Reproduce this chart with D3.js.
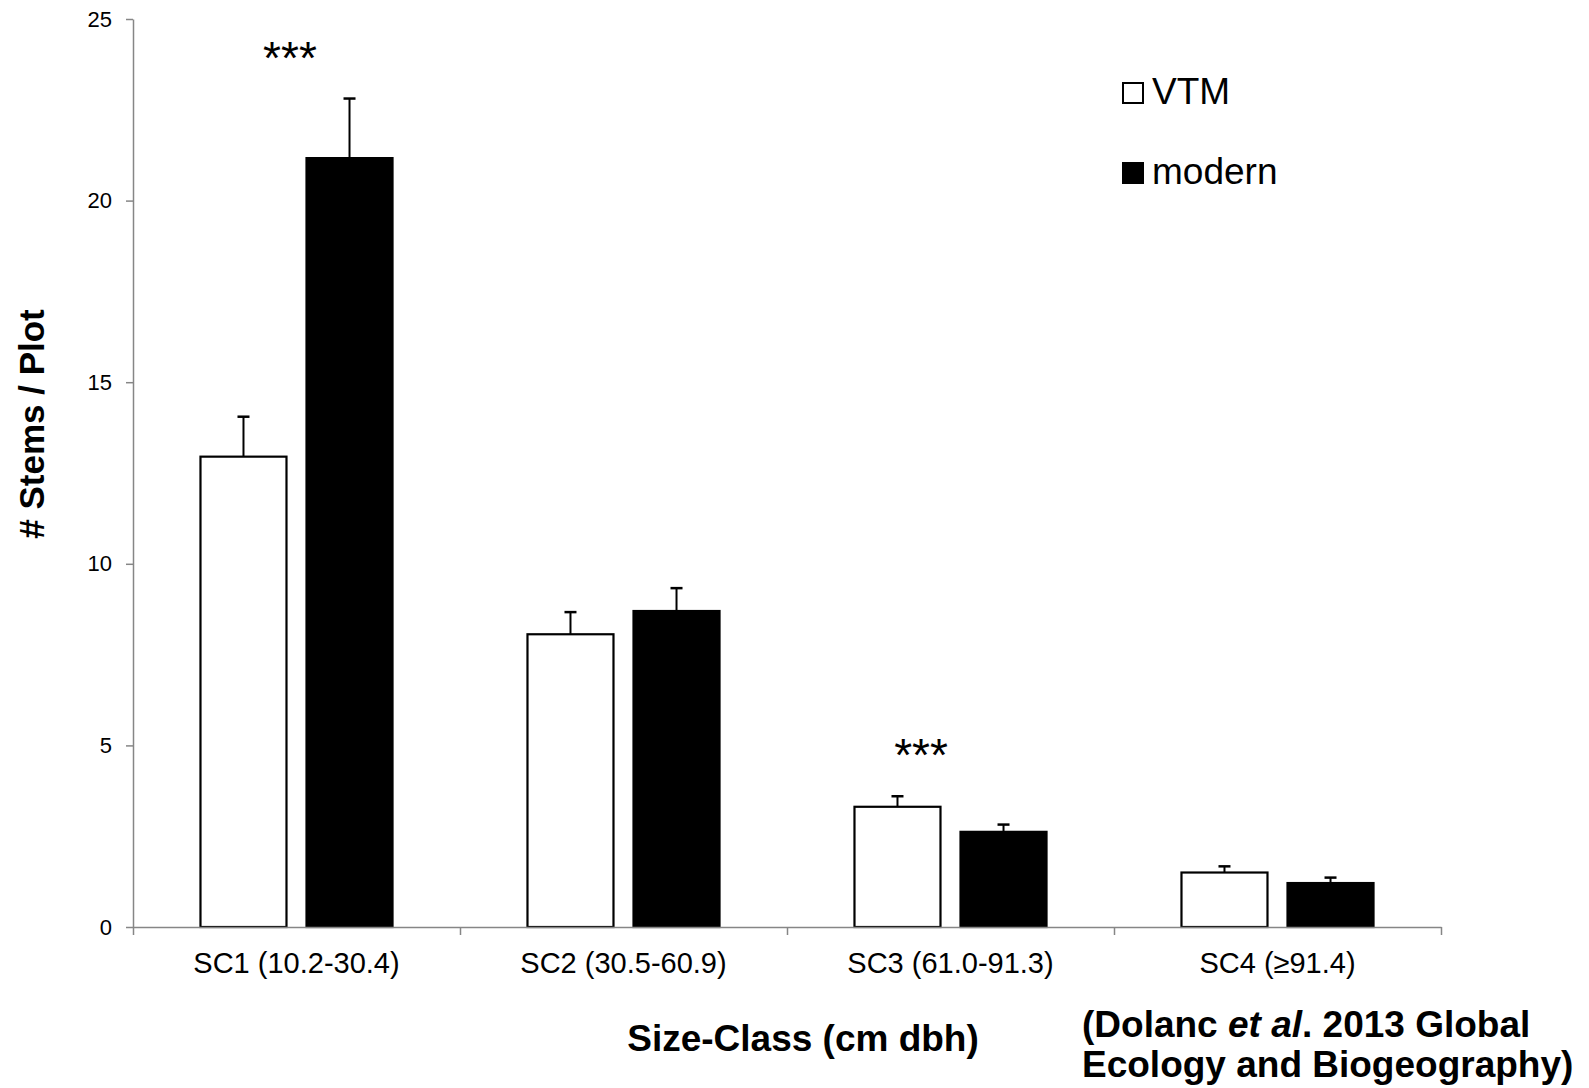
<!DOCTYPE html>
<html>
<head>
<meta charset="utf-8">
<script src="https://cdn.jsdelivr.net/npm/d3@7"></script>
<style>
  body { margin: 0; background: #fff; }
  svg { display: block; font-family: "Liberation Sans", Arial, sans-serif; }
</style>
</head>
<body>
<script>
// data
const categories = ["SC1 (10.2-30.4)", "SC2 (30.5-60.9)", "SC3 (61.0-91.3)", "SC4 (\u226591.4)"];
const series = ["VTM", "modern"];
const vtmMean = [12.95, 8.06, 3.31, 1.50];
const vtmErr = [1.10, 0.61, 0.29, 0.17];
const modernMean = [21.17, 8.70, 2.62, 1.21];
const modernErr = [1.64, 0.63, 0.20, 0.15];
const yTicks = [0, 5, 10, 15, 20, 25];
// significance marks: category index, height (data units), shift within category
const stars = [
  { cat: 0, y: 24.4, shift: -0.02 },
  { cat: 2, y: 5.2, shift: -0.09 }
];

const width = 1589, height = 1088;
const margin = { top: 19, right: 148, bottom: 161, left: 133 };
const innerWidth = width - margin.left - margin.right;
const innerHeight = height - margin.top - margin.bottom;

const rows = categories.map((c, i) => ({
  cat: c,
  values: [
    { key: "VTM", mean: vtmMean[i], err: vtmErr[i] },
    { key: "modern", mean: modernMean[i], err: modernErr[i] }
  ]
}));

const x = d3.scaleBand()
  .domain(categories)
  .range([0, innerWidth]);

const xSub = d3.scaleBand()
  .domain(series)
  .range([0, x.bandwidth()])
  .paddingInner(0.17)
  .paddingOuter(0.627);

const xEdges = d3.scaleLinear()
  .domain([0, categories.length])
  .range([0, innerWidth]);

const y = d3.scaleLinear()
  .domain([0, 25])
  .range([innerHeight, 0]);

const color = { VTM: "#ffffff", modern: "#000000" };

const svg = d3.select("body").append("svg")
  .attr("width", width)
  .attr("height", height);

const g = svg.append("g")
  .attr("transform", `translate(${margin.left},${margin.top})`);

// y axis
const yAxis = g.append("g")
  .call(d3.axisLeft(y).tickValues(yTicks).tickSize(7).tickSizeOuter(0).tickPadding(14));
yAxis.select(".domain").attr("stroke", "#868686").attr("stroke-width", 1.5);
yAxis.selectAll(".tick line").attr("stroke", "#868686").attr("stroke-width", 1.5);
yAxis.selectAll(".tick text")
  .attr("font-size", 22)
  .attr("fill", "#000")
  .attr("font-family", "Liberation Sans, Arial, sans-serif");

// bars
const groups = g.selectAll("g.cat")
  .data(rows)
  .join("g")
    .attr("class", "cat")
    .attr("transform", d => `translate(${x(d.cat)},0)`);

groups.selectAll("line.err")
  .data(d => d.values)
  .join("line")
    .attr("class", "err")
    .attr("x1", d => xSub(d.key) + xSub.bandwidth() / 2)
    .attr("x2", d => xSub(d.key) + xSub.bandwidth() / 2)
    .attr("y1", d => y(d.mean))
    .attr("y2", d => y(d.mean + d.err))
    .attr("stroke", "#000")
    .attr("stroke-width", 2);

groups.selectAll("line.cap")
  .data(d => d.values)
  .join("line")
    .attr("class", "cap")
    .attr("x1", d => xSub(d.key) + xSub.bandwidth() / 2 - 6)
    .attr("x2", d => xSub(d.key) + xSub.bandwidth() / 2 + 6)
    .attr("y1", d => y(d.mean + d.err))
    .attr("y2", d => y(d.mean + d.err))
    .attr("stroke", "#000")
    .attr("stroke-width", 2.5);

groups.selectAll("rect")
  .data(d => d.values)
  .join("rect")
    .attr("x", d => xSub(d.key) + 1)
    .attr("y", d => y(d.mean))
    .attr("width", xSub.bandwidth() - 2)
    .attr("height", d => y(0) - y(d.mean))
    .attr("fill", d => color[d.key])
    .attr("stroke", "#000")
    .attr("stroke-width", 2.2);

// x axis: ticks at category edges
const xAxis = g.append("g")
  .attr("transform", `translate(0,${innerHeight})`)
  .call(d3.axisBottom(xEdges).ticks(categories.length).tickSize(8).tickSizeOuter(0).tickFormat(""));
xAxis.select(".domain").attr("stroke", "#868686").attr("stroke-width", 1.5);
xAxis.selectAll(".tick line").attr("stroke", "#868686").attr("stroke-width", 1.5);

// category labels
g.append("g")
  .selectAll("text")
  .data(categories)
  .join("text")
    .attr("x", d => x(d) + x.bandwidth() / 2)
    .attr("y", innerHeight + 46)
    .attr("text-anchor", "middle")
    .attr("font-size", 29)
    .text(d => d);

// significance stars
g.append("g")
  .selectAll("text")
  .data(stars)
  .join("text")
    .attr("x", d => x(categories[d.cat]) + x.bandwidth() * (0.5 + d.shift))
    .attr("y", d => y(d.y) + 33)
    .attr("text-anchor", "middle")
    .attr("font-size", 46)
    .text("***");

// legend
const legend = svg.append("g")
  .attr("transform", "translate(1123,83)");
const li = legend.selectAll("g")
  .data(series)
  .join("g")
    .attr("transform", (d, i) => `translate(0,${i * 80})`);
li.append("rect")
  .attr("width", 20)
  .attr("height", 20)
  .attr("fill", d => color[d])
  .attr("stroke", "#000")
  .attr("stroke-width", 2);
li.append("text")
  .attr("x", 29)
  .attr("y", 21)
  .attr("font-size", 37)
  .text(d => d);

// axis titles
svg.append("text")
  .attr("transform", "translate(44,424) rotate(-90)")
  .attr("text-anchor", "middle")
  .attr("font-size", 35)
  .attr("font-weight", "bold")
  .text("# Stems / Plot");

svg.append("text")
  .attr("x", 803)
  .attr("y", 1051)
  .attr("text-anchor", "middle")
  .attr("font-size", 37)
  .attr("font-weight", "bold")
  .text("Size-Class (cm dbh)");

// citation
const cite = svg.append("text")
  .attr("x", 1082)
  .attr("font-size", 37)
  .attr("font-weight", "bold");
const l1 = cite.append("tspan").attr("x", 1082).attr("y", 1037);
l1.append("tspan").text("(Dolanc ");
l1.append("tspan").attr("font-style", "italic").text("et al");
l1.append("tspan").text(". 2013 Global");
cite.append("tspan").attr("x", 1082).attr("y", 1077).text("Ecology and Biogeography)");
</script>
</body>
</html>
